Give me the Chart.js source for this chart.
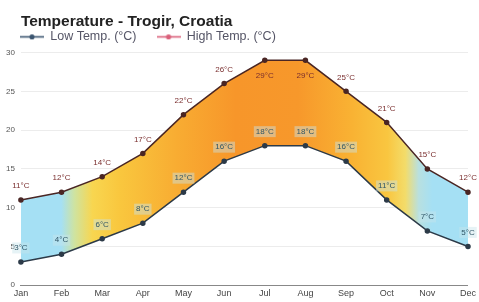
<!DOCTYPE html>
<html>
<head>
<meta charset="utf-8">
<script src="https://cdn.jsdelivr.net/npm/chart.js@4"></script>
<style>
html,body{margin:0;padding:0;background:#fff;}
#wrap{width:479px;height:302px;position:relative;}
</style>
</head>
<body>
<div id="wrap"><canvas id="c" width="479" height="302"></canvas></div>
<script>
const months = ['Jan','Feb','Mar','Apr','May','Jun','Jul','Aug','Sep','Oct','Nov','Dec'];
const lowTemps = [3, 4, 6, 8, 12, 16, 18, 18, 16, 11, 7, 5];
const highTemps = [11, 12, 14, 17, 22, 26, 29, 29, 25, 21, 15, 12];
const yTicks = [0, 5, 10, 15, 20, 25, 30];
const seriesNames = ['Low Temp. (°C)', 'High Temp. (°C)'];

const FONT = '"Liberation Sans", Arial, sans-serif';

function legendIcon(color) {
  const cv = document.createElement('canvas');
  cv.width = 24; cv.height = 7;
  const g = cv.getContext('2d');
  g.strokeStyle = color; g.lineWidth = 1.6;
  g.beginPath(); g.moveTo(0, 3.5); g.lineTo(24, 3.5); g.stroke();
  g.fillStyle = color;
  g.beginPath(); g.arc(12, 3.5, 2.6, 0, Math.PI * 2); g.fill();
  return cv;
}
const legendIcons = [legendIcon('#3b5570'), legendIcon('#d9607a')];

function fillGradient(ctx) {
  const ca = ctx.chart.chartArea;
  if (!ca) return '#f9a830';
  const g = ctx.chart.ctx.createLinearGradient(ca.left, 0, ca.right, 0);
  g.addColorStop(0.00, '#a5e0f4');
  g.addColorStop(0.09, '#a5e0f4');
  g.addColorStop(0.12, '#cfe3a0');
  g.addColorStop(0.16, '#f8d650');
  g.addColorStop(0.22, '#f9c73e');
  g.addColorStop(0.35, '#f8ac32');
  g.addColorStop(0.48, '#f7962a');
  g.addColorStop(0.62, '#f7982b');
  g.addColorStop(0.74, '#f9b233');
  g.addColorStop(0.82, '#f9c640');
  g.addColorStop(0.86, '#f3dc6a');
  g.addColorStop(0.89, '#b8e0e0');
  g.addColorStop(0.92, '#a5e0f4');
  g.addColorStop(1.00, '#a5e0f4');
  return g;
}

const valueLabels = {
  id: 'valueLabels',
  afterDatasetsDraw(chart) {
    const c = chart.ctx;
    const ca = chart.chartArea;
    c.save();
    c.font = '8px ' + FONT;
    c.textAlign = 'center';
    c.textBaseline = 'middle';
    chart.data.datasets.forEach((ds, di) => {
      const meta = chart.getDatasetMeta(di);
      meta.data.forEach((pt, i) => {
        const txt = ds.data[i] + '°C';
        const w = c.measureText(txt).width;
        let x = pt.x;
        let y = pt.y - 14;
        if (y < ca.top + 8) y = pt.y + 15;
        x = Math.max(w / 2 + 3, Math.min(chart.width - w / 2 - 2, x));
        if (di === 0) {
          c.fillStyle = 'rgba(200,228,236,0.45)';
          c.fillRect(x - w / 2 - 2, y - 5.5, w + 4, 11);
          c.fillStyle = '#2f5566';
        } else {
          c.fillStyle = '#7a2e2e';
        }
        c.fillText(txt, x, y);
      });
    });
    c.restore();
  }
};

new Chart(document.getElementById('c'), {
  type: 'line',
  data: {
    labels: months,
    datasets: [
      {
        label: seriesNames[0],
        data: lowTemps,
        borderColor: '#2c3a48',
        backgroundColor: '#2c3a48',
        pointBackgroundColor: '#2c3a48',
        pointBorderColor: '#2c3a48',
        pointStyle: 'circle',
        pointRadius: 2,
        borderWidth: 1.5,
        tension: 0,
        fill: false
      },
      {
        label: seriesNames[1],
        data: highTemps,
        borderColor: '#4a2624',
        pointBackgroundColor: '#4a2624',
        pointBorderColor: '#4a2624',
        pointStyle: 'circle',
        pointRadius: 2,
        borderWidth: 1.5,
        tension: 0,
        fill: { target: '-1' },
        backgroundColor: fillGradient
      }
    ]
  },
  options: {
    responsive: false,
    animation: false,
    devicePixelRatio: 1,
    layout: { padding: { left: 0, right: 6, top: 0, bottom: 0 } },
    plugins: {
      title: {
        display: true,
        fullSize: false,
        text: 'Temperature - Trogir, Croatia',
        align: 'start',
        color: '#222',
        font: { family: FONT, size: 15.5, weight: 'bold' },
        padding: { top: 12, bottom: -20 }
      },
      legend: {
        display: true,
        fullSize: true,
        align: 'start',
        maxHeight: 42,
        labels: {
          usePointStyle: true,
          pointStyleWidth: 24,
          color: '#556',
          font: { family: FONT, size: 12.5 },
          padding: 20,
          boxHeight: 7,
          generateLabels(chart) {
            return chart.data.datasets.map((ds, i) => ({
              text: ds.label,
              pointStyle: legendIcons[i],
              fillStyle: 'transparent',
              strokeStyle: 'transparent',
              lineWidth: 0,
              datasetIndex: i,
              fontColor: '#556'
            }));
          }
        }
      },
      tooltip: { enabled: false }
    },
    scales: {
      x: {
        offset: false,
        grid: { display: false, drawTicks: false },
        border: { display: true, color: '#888', width: 1 },
        ticks: {
          color: '#444',
          font: { family: FONT, size: 9 },
          padding: 3,
          maxRotation: 0
        }
      },
      y: {
        min: 0,
        max: 30,
        afterBuildTicks(scale) { scale.ticks = yTicks.map(v => ({ value: v })); },
        grid: { color: '#ececec', drawTicks: false },
        border: { display: false },
        ticks: {
          color: '#555',
          font: { family: FONT, size: 8 },
          padding: 6
        }
      }
    }
  },
  plugins: [valueLabels]
});
</script>
</body>
</html>
